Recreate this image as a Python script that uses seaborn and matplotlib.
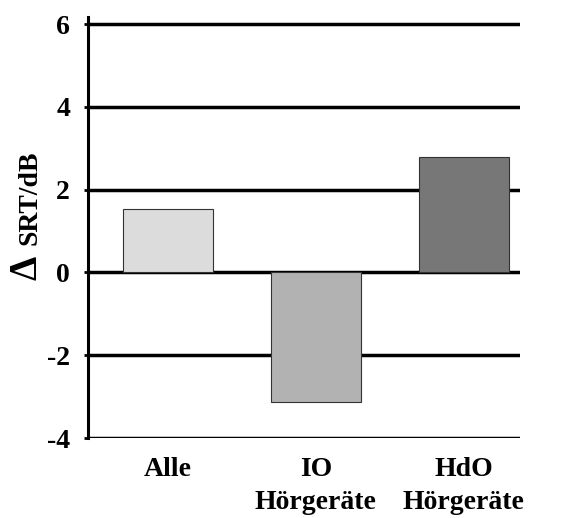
import matplotlib
matplotlib.use("Agg")
import matplotlib.pyplot as plt
import seaborn as sns

categories = ["Alle", "IO\nHörgeräte", "HdO\nHörgeräte"]
values = [1.53, -3.14, 2.78]
colors = ["#dcdcdc", "#b2b2b2", "#777777"]
yticks = [-4, -2, 0, 2, 4, 6]

sns.set_style("white")
plt.rcParams["font.family"] = ["Liberation Serif", "DejaVu Serif"]
plt.rcParams["text.color"] = "black"
plt.rcParams["xtick.color"] = "black"
plt.rcParams["ytick.color"] = "black"
plt.rcParams["axes.labelcolor"] = "black"

fig = plt.figure(figsize=(5.61, 5.18), dpi=100)
ax = fig.add_axes([0.157, 0.1544, 0.77, 0.8126])

sns.barplot(x=categories, y=values, hue=categories, palette=colors, legend=False,
            width=0.61, edgecolor="#333333", linewidth=0.8, ax=ax, zorder=3)

ax.set_ylim(-4, 6.17)
ax.set_xlim(-0.54, 2.38)
ax.set_yticks(yticks)
ax.set_yticklabels([str(t) for t in yticks], fontsize=20, fontweight="bold", color="black")
for lbl in ax.get_xticklabels():
    lbl.set_fontsize(20)
    lbl.set_fontweight("bold")
    lbl.set_linespacing(1.4)
    lbl.set_color("black")

for t in yticks:
    ax.axhline(t, color="black", lw=2.5, zorder=1)

for s in ["top", "right", "bottom"]:
    ax.spines[s].set_visible(False)
ax.spines["left"].set_color("black")
ax.spines["left"].set_linewidth(2.2)

ax.tick_params(axis="y", length=3, width=2, color="black", pad=10, direction="out", left=True)
ax.tick_params(axis="x", length=0, pad=14)
ax.set_xlabel("")
ax.set_ylabel("")

fig.text(30 / 561, 1 - 198 / 518, "SRT/dB", rotation=90, fontsize=20, fontweight="bold",
         ha="center", va="center", color="black")
fig.text(27 / 561, 1 - 268 / 518, "Δ", rotation=90, fontsize=28, fontweight="bold",
         ha="center", va="center", color="black")

fig.savefig("out.png", dpi=100)
